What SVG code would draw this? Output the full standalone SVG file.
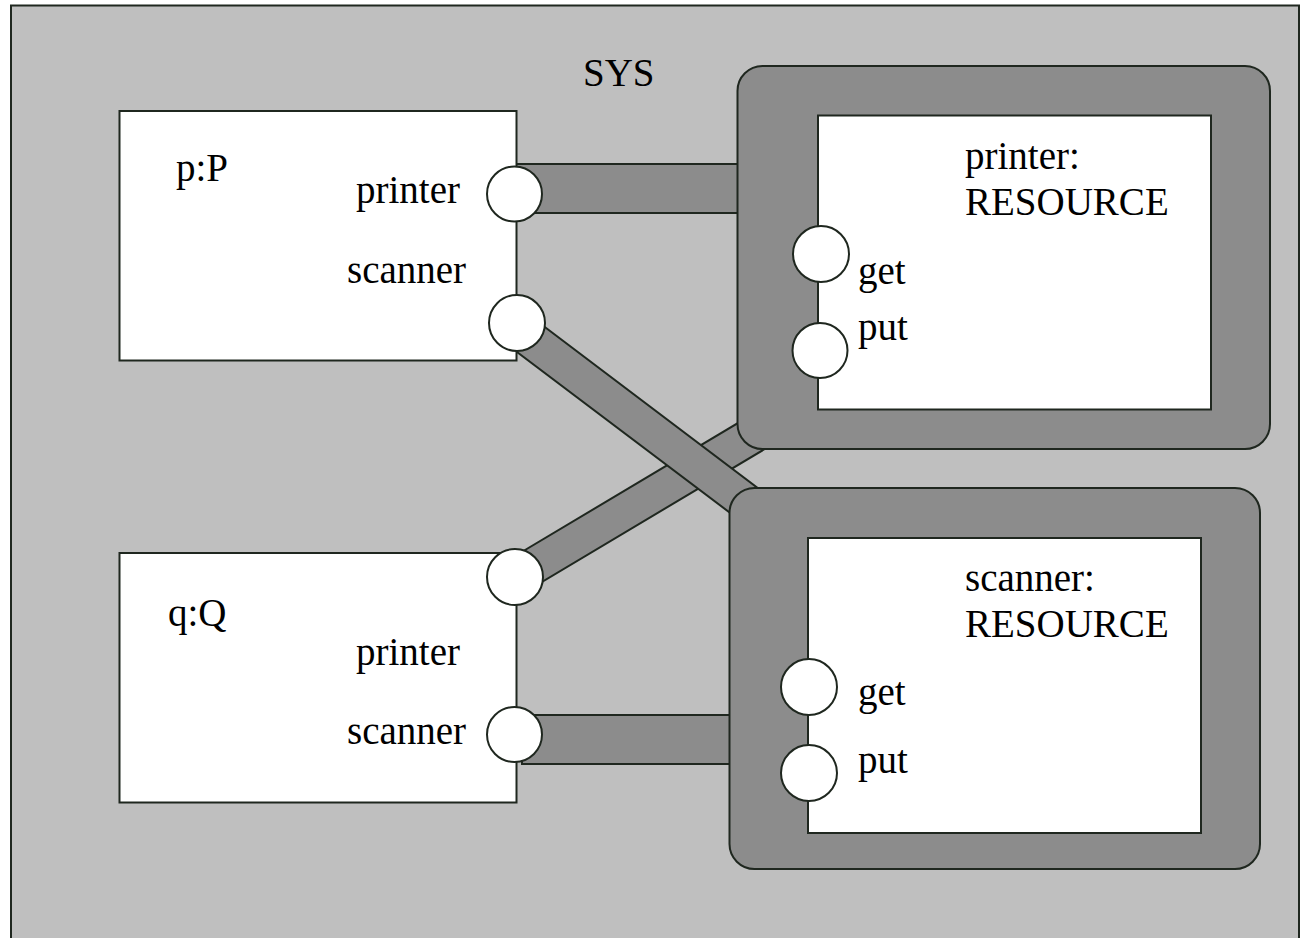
<svg xmlns="http://www.w3.org/2000/svg" width="1301" height="938" viewBox="0 0 1301 938">
<style>
.ln{stroke:#1f271f;stroke-width:2}
.bg{fill:#bfbfbf}
.dk{fill:#8c8c8c}
.wh{fill:#ffffff}
.t{font-family:"Liberation Serif","Times New Roman",serif;font-size:39px;fill:#000}
</style>
<rect width="1301" height="938" fill="#ffffff"/>
<g id="SYS">
<rect class="bg ln" x="11" y="5.5" width="1288" height="940"/>
<text class="t" x="583" y="86">SYS</text>
</g>
<g id="connectors">
<rect class="dk ln" x="512" y="164" width="250" height="49"/>
<rect class="dk ln" x="522" y="715" width="230" height="49"/>
<polygon class="dk ln" points="515,556 790,392 800,428 515,598"/>
<polygon class="dk ln" points="517,306 800,520 770,543 517,352"/>
</g>
<g id="p">
<rect class="wh ln" x="119.5" y="111" width="397" height="249.5"/>
<text class="t" x="176" y="181">p:P</text>
<text class="t" x="356" y="203">printer</text>
<text class="t" x="347" y="283">scanner</text>
<circle class="wh ln" cx="514.5" cy="194" r="27.5"/>
<circle class="wh ln" cx="517" cy="323" r="28"/>
</g>
<g id="q">
<rect class="wh ln" x="119.5" y="553" width="397" height="249.5"/>
<text class="t" x="168" y="626">q:Q</text>
<text class="t" x="356" y="665">printer</text>
<text class="t" x="347" y="744">scanner</text>
<circle class="wh ln" cx="515" cy="577" r="28"/>
<circle class="wh ln" cx="514.5" cy="734.5" r="27.5"/>
</g>
<g id="printer">
<rect class="dk ln" x="737.5" y="66" width="532.5" height="383" rx="25"/>
<rect class="wh ln" x="818" y="115.5" width="393" height="294"/>
<text class="t" x="965" y="169">printer:</text>
<text class="t" x="965" y="215">RESOURCE</text>
<circle class="wh ln" cx="821" cy="254" r="28"/>
<circle class="wh ln" cx="820" cy="350.5" r="27.5"/>
<text class="t" x="858" y="284">get</text>
<text class="t" x="858" y="340">put</text>
</g>
<g id="scanner">
<rect class="dk ln" x="729.5" y="488" width="530.5" height="381" rx="25"/>
<rect class="wh ln" x="808" y="538" width="393" height="295"/>
<text class="t" x="965" y="591">scanner:</text>
<text class="t" x="965" y="637">RESOURCE</text>
<circle class="wh ln" cx="809" cy="687" r="28"/>
<circle class="wh ln" cx="809" cy="773" r="28"/>
<text class="t" x="858" y="705">get</text>
<text class="t" x="858" y="773">put</text>
</g>
</svg>
